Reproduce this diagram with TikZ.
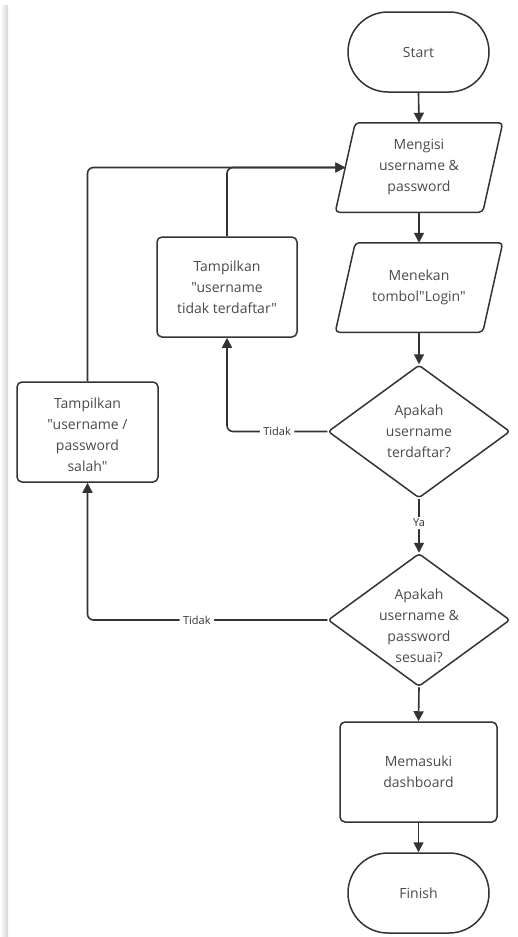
\documentclass[tikz,border=0pt]{standalone}
\usepackage{fontspec}
\setmainfont{Open Sans}[Ligatures=TeXOff]
\usetikzlibrary{shapes.geometric,arrows.meta,calc}
\definecolor{linec}{HTML}{333333}
\definecolor{textc}{HTML}{4A4A4A}
\begin{document}
\begin{tikzpicture}[x=1pt,y=-1pt,
  base/.style={draw=linec, line width=1.5pt, text=textc, font=\fontsize{14}{21}\selectfont, align=center, inner sep=0pt},
  term/.style={base, minimum width=141pt, minimum height=80pt, rounded corners=39.9pt},
  proc/.style={base, minimum width=140pt, minimum height=100pt, rounded corners=5pt},
  io/.style={base, draw=none, minimum width=146pt, minimum height=88pt},
  dec/.style={base, diamond, minimum width=182pt, minimum height=133pt, aspect=1.37, rounded corners=3pt},
  txt/.style={text=textc, font=\fontsize{14}{21}\selectfont, align=center, inner sep=0pt},
  shapeline/.style={draw=linec, line width=1.5pt, rounded corners=4pt},
  conn/.style={draw=linec, line width=1.6pt, -{Triangle[length=10pt,width=10pt]}, rounded corners=6pt},
  lbl/.style={fill=white, text=linec, font=\fontsize{11}{13}\selectfont, inner xsep=3.5pt, inner ysep=2pt}]
\useasboundingbox (0,0) rectangle (518,937);
\shade[left color=white, right color=black!16] (0,5) rectangle (8,937);

\node[term] (start) at (418.5,52) {Start};
\node[io] (mengisi) at (419,167.5) {Mengisi\\username \&\\password};
\node[io] (menekan) at (419,287.5) {Menekan\\tombol"Login"};
\foreach \n in {mengisi,menekan}
  \draw[shapeline] ($(\n.north west)+(10,0)$) -- ($(\n.north east)+(10,0)$) -- ($(\n.south east)+(-10,0)$) -- ($(\n.south west)+(-10,0)$) -- cycle;
\node[proc] (tampil1) at (227,287) {Tampilkan\\"username\\tidak terdaftar"};
\node[dec] (d1) at (419,431.5) {Apakah\\username\\terdaftar?};
\node[proc, minimum width=141pt] (tampil2) at (87.5,432) {};
\node[txt] (tampil2t) at (87.5,435) {Tampilkan\\"username /\\password\\salah"};
\node[dec] (d2) at (419,620) {};
\node[txt] (d2t) at (419,626) {Apakah\\username \&\\password\\sesuai?};
\node[proc, minimum width=157pt] (masuk) at (418.5,772) {Memasuki\\dashboard};
\node[term] (finish) at (418.5,893) {Finish};

\draw[conn] (start.south) -- (mengisi.north);
\draw[conn] (mengisi.south) -- (menekan.north);
\draw[conn] (menekan.south) -- (d1.north);
\draw[conn] (d1.west) -| node[lbl, pos=0.25] (lt1) {Tidak} (tampil1.south);
\draw[conn] (d1.south) -- node[lbl, pos=0.45] (lya) {Ya} (d2.north);
\draw[conn] (d2.west) -| node[lbl, pos=0.272] (lt2) {Tidak} (tampil2.south);
\draw[conn] (tampil1.north) |- (mengisi.west);
\draw[conn] (tampil2.north) |- (mengisi.west);
\draw[conn] (d2.south) -- (masuk.north);
\draw[conn] (masuk.south) -- (finish.north);
\end{tikzpicture}
\end{document}
